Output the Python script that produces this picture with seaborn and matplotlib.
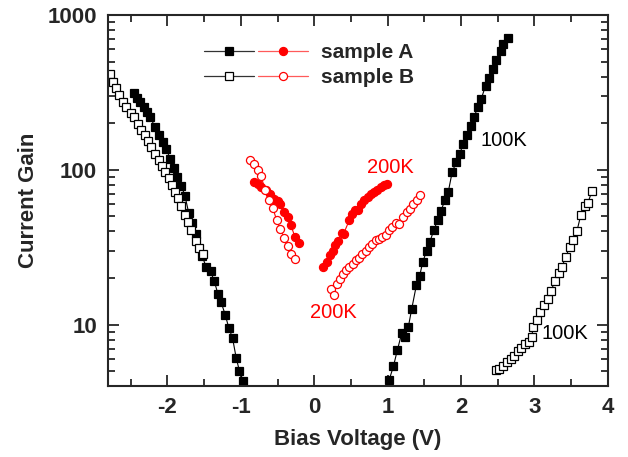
import numpy as np
import pandas as pd
import matplotlib
matplotlib.use("Agg")
import matplotlib.pyplot as plt
import seaborn as sns
from matplotlib.lines import Line2D
from matplotlib.legend_handler import HandlerTuple
from matplotlib.ticker import FixedLocator, FixedFormatter, LogLocator, NullFormatter, MultipleLocator

# ---- data ----
a100_neg_x = [-2.455, -2.414, -2.369, -2.319, -2.274, -2.233, -2.170, -2.116, -2.061, -2.015,
              -1.966, -1.916, -1.866, -1.812, -1.762, -1.712, -1.666, -1.608, -1.526, -1.472,
              -1.413, -1.363, -1.313, -1.268, -1.214, -1.164, -1.114, -1.064, -1.019, -0.965]
a100_neg_y = [316, 293, 275, 255, 236, 218, 189, 167, 151, 137,
              118, 103, 90, 79, 68, 53, 45, 38.3, 27.6, 23.5,
              22.1, 19.1, 15.8, 13.9, 11.6, 9.5, 8.2, 6.1, 5.0, 4.3]

b100_neg_x = [-2.785, -2.740, -2.704, -2.659, -2.605, -2.559, -2.500, -2.455, -2.401, -2.355,
              -2.310, -2.265, -2.219, -2.174, -2.120, -2.075, -2.030, -1.985, -1.940, -1.895,
              -1.850, -1.810, -1.766, -1.721, -1.676, -1.617, -1.572, -1.517]
b100_neg_y = [415, 370, 340, 303, 275, 255, 234, 218, 199, 182,
              167, 154, 141, 127, 115, 106, 97, 88, 80, 72,
              66, 58, 51, 46, 41, 34.5, 31.2, 28.7]

a200_neg_x = [-0.824, -0.770, -0.725, -0.657, -0.602, -0.543, -0.498, -0.462, -0.408, -0.362,
              -0.317, -0.263, -0.213]
a200_neg_y = [83.4, 81.5, 78, 73.6, 70, 65, 62.8, 60.4, 53.3, 49.5, 43.7, 36.7, 33.8]

b200_neg_x = [-0.870, -0.824, -0.770, -0.725, -0.666, -0.620, -0.566, -0.512, -0.462, -0.408,
              -0.362, -0.317, -0.263]
b200_neg_y = [115, 108.6, 99.3, 90.8, 73.6, 63.5, 57, 47.1, 41.2, 36.4, 32.1, 28.7, 26.4]

a200_pos_x = [0.122, 0.168, 0.217, 0.249, 0.285, 0.326, 0.371, 0.399, 0.476, 0.512,
              0.553, 0.589, 0.634, 0.679, 0.725, 0.770, 0.815, 0.860, 0.906, 0.951, 0.987]
a200_pos_y = [23.5, 25.3, 28, 30.1, 32.5, 34.6, 39, 38.6, 47.1, 52,
              54.7, 55.2, 60.4, 64.1, 66.7, 69.4, 71.8, 74.4, 77.4, 79.4, 81.4]

b200_pos_x = [0.226, 0.272, 0.303, 0.349, 0.385, 0.431, 0.476, 0.521, 0.566, 0.611,
              0.656, 0.702, 0.747, 0.792, 0.838, 0.883, 0.928, 0.974, 1.019, 1.064,
              1.110, 1.155, 1.213, 1.259, 1.304, 1.349, 1.395, 1.440]
b200_pos_y = [16.9, 15.6, 18.3, 19.8, 21.3, 22.4, 23.5, 24.5, 26, 27,
              28.4, 30.1, 31.6, 33, 35, 35.9, 36.7, 37.7, 40.6, 42.7,
              45.3, 44.9, 49.5, 53.3, 56.1, 60.4, 63.5, 68.4]

a100_pos_x = [1.019, 1.078, 1.132, 1.191, 1.232, 1.282, 1.327, 1.390, 1.436, 1.477,
              1.531, 1.576, 1.630, 1.680, 1.726, 1.780, 1.825, 1.879, 1.934, 1.980,
              2.029, 2.083, 2.129, 2.178, 2.228, 2.273, 2.333, 2.378, 2.432, 2.482,
              2.537, 2.572, 2.636]
a100_pos_y = [4.38, 5.37, 6.85, 8.79, 8.36, 9.7, 12.6, 17.9, 20.7, 25.3,
              30.1, 34.4, 41, 47.1, 54.1, 64.1, 72, 96.9, 112, 127,
              146, 167, 192, 220, 255, 286, 349, 395, 447, 511,
              585, 646, 706]

b100_pos_x = [2.478, 2.523, 2.572, 2.622, 2.677, 2.722, 2.776, 2.822, 2.876, 2.921,
              2.966, 2.976, 3.034, 3.080, 3.125, 3.179, 3.229, 3.274, 3.329, 3.374,
              3.428, 3.478, 3.524, 3.578, 3.632, 3.682, 3.727, 3.781]
b100_pos_y = [5.12, 5.17, 5.43, 5.70, 6.0, 6.3, 6.7, 7.1, 7.5, 7.7,
              8.3, 9.6, 10.7, 12.0, 13.3, 14.7, 16.6, 19.0, 21.5, 23.7,
              27.5, 31.6, 35, 40.2, 51.3, 58, 61, 72.6]

legend_labels = ["sample A", "sample B"]
x_ticks = [-2, -1, 0, 1, 2, 3, 4]
y_ticks = [10, 100, 1000]
y_tick_labels = ["10", "100", "1000"]

# ---- styling ----
sns.set_style("ticks")
plt.rcParams["font.family"] = ["Liberation Sans", "DejaVu Sans"]

fig = plt.figure(figsize=(6.28, 4.57), dpi=100)
ax = fig.add_axes([0.172, 0.155, 0.796, 0.812])

RED = "#ff0000"
LRED = "#ff5a5a"
ms = 5.8
common = dict(estimator=None, sort=False, ax=ax, legend=False, linewidth=0.8)

def series(xs, ys, color, marker, filled):
    df = pd.DataFrame({"x": xs, "y": ys})
    kw = dict(marker=marker, markersize=ms, markeredgewidth=0.9,
              markeredgecolor=color,
              markerfacecolor=(color if filled else "white"))
    sns.lineplot(data=df, x="x", y="y", color=color, **common, **kw)

series(a100_neg_x, a100_neg_y, "black", "s", True)
series(b100_neg_x, b100_neg_y, "black", "s", False)
series(a100_pos_x, a100_pos_y, "black", "s", True)
series(b100_pos_x, b100_pos_y, "black", "s", False)
series(a200_neg_x, a200_neg_y, RED, "o", True)
series(b200_neg_x, b200_neg_y, RED, "o", False)
series(a200_pos_x, a200_pos_y, RED, "o", True)
series(b200_pos_x, b200_pos_y, RED, "o", False)

ax.set_yscale("log")
ax.set_xlim(-2.81, 4.0)
ax.set_ylim(4.0, 1000)

ax.xaxis.set_major_locator(FixedLocator(x_ticks))
ax.xaxis.set_minor_locator(MultipleLocator(0.5))
ax.yaxis.set_major_locator(FixedLocator(y_ticks))
ax.yaxis.set_major_formatter(FixedFormatter(y_tick_labels))
ax.yaxis.set_minor_locator(LogLocator(base=10, subs=np.arange(2, 10)))
ax.yaxis.set_minor_formatter(NullFormatter())
ax.set_xticklabels([str(t) for t in x_ticks])

ax.tick_params(which="both", direction="in", top=True, right=True,
               width=1.3, labelsize=16, pad=8)
ax.tick_params(which="major", length=8)
ax.tick_params(which="minor", length=5)
for lab in ax.get_xticklabels() + ax.get_yticklabels():
    lab.set_fontweight("bold")
for sp in ax.spines.values():
    sp.set_linewidth(1.5)
    sp.set_visible(True)

ax.set_xlabel("Bias Voltage (V)", fontsize=16, fontweight="bold", labelpad=8)
ax.set_ylabel("Current Gain", fontsize=16, fontweight="bold", labelpad=6)

# annotations
ax.text(2.27, 155, "100K", fontsize=14.5, color="black", va="center", ha="left")
ax.text(3.10, 8.7, "100K", fontsize=14.5, color="black", va="center", ha="left")
ax.text(1.04, 104, "200K", fontsize=14.5, color=RED, va="center", ha="center")
ax.text(0.26, 12.0, "200K", fontsize=14.5, color=RED, va="center", ha="center")

# legend
def h(color, mcolor, marker, filled):
    return Line2D([], [], color=color, lw=0.9, marker=marker, markersize=ms,
                  markeredgecolor=mcolor, markeredgewidth=0.9,
                  markerfacecolor=(mcolor if filled else "white"))

handles = [(h("#333333", "black", "s", True), h(LRED, RED, "o", True)),
           (h("#333333", "black", "s", False), h(LRED, RED, "o", False))]
leg = ax.legend(handles, legend_labels, handler_map={tuple: HandlerTuple(ndivide=None, pad=0.2)},
                loc="upper left", bbox_to_anchor=(0.155, 0.975), frameon=False,
                handlelength=5.0, handletextpad=0.6, labelspacing=0.3,
                prop={"size": 15, "weight": "bold"})

fig.savefig("out.png", dpi=100, facecolor="white")
